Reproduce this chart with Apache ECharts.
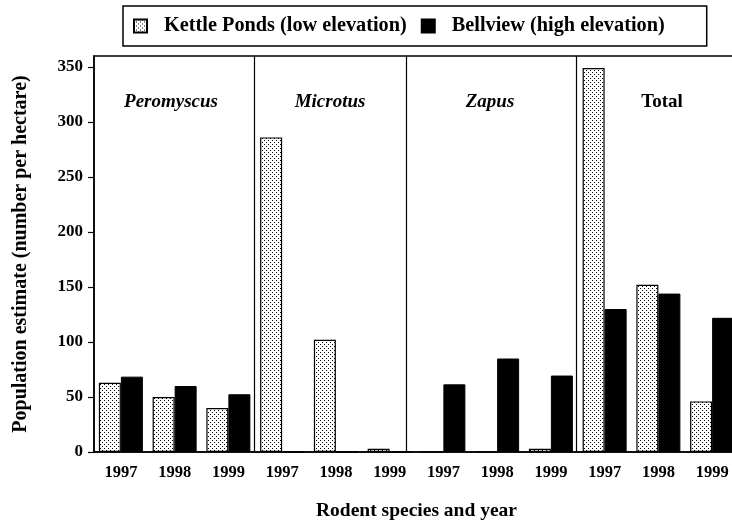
<!DOCTYPE html>
<html>
<head>
<meta charset="utf-8">
<script src="https://cdn.jsdelivr.net/npm/echarts@6/dist/echarts.min.js"></script>
<style>
  html, body { margin: 0; padding: 0; background: #fff; }
  #chart { width: 732px; height: 523px; }
</style>
</head>
<body>
<div id="chart"></div>
<script>
// data
var years = ['1997', '1998', '1999', '1997', '1998', '1999', '1997', '1998', '1999', '1997', '1998', '1999']
var groupNames = ['Peromyscus', 'Microtus', 'Zapus', 'Total']
var kettlePonds = [63, 50, 40, 286, 102, 3, 0, 0, 3, 349, 152, 46]
var bellview = [68.5, 60, 52.5, 0, 0, 0, 61.5, 85, 69.5, 130, 144, 122]
var yTicks = [0, 50, 100, 150, 200, 250, 300, 350]
// where the group dividers sit, in category units
var dividers = [2.98, 5.8, 8.98]

var FONT = '"Liberation Serif", "Times New Roman", serif'

// dotted fill for the low elevation bars
function makeDots () {
  var c = document.createElement('canvas')
  c.width = 4
  c.height = 4
  var ctx = c.getContext('2d')
  ctx.fillStyle = '#fff'
  ctx.fillRect(0, 0, 4, 4)
  ctx.fillStyle = '#000'
  ctx.fillRect(0, 0, 1, 1)
  ctx.fillRect(2, 2, 1, 1)
  return c
}
var dots = { image: makeDots(), repeat: 'repeat' }

var myChart = echarts.init(document.getElementById('chart'))

// group labels above each block
var labelX = [171, 330, 490, 662]
var groupText = groupNames.map(function (name, i) {
  return {
    type: 'text',
    x: labelX[i],
    y: 102,
    style: {
      text: name,
      fill: '#000',
      font: (i < 3 ? 'italic ' : '') + 'bold 19px ' + FONT,
      textAlign: 'center',
      textVerticalAlign: 'middle'
    }
  }
})

var option = {
  animation: false,
  backgroundColor: '#fff',
  textStyle: { fontFamily: FONT },
  legend: {
    left: 123,
    top: 6,
    padding: [10, 42, 10, 10],
    borderColor: '#000',
    borderWidth: 1.5,
    itemWidth: 13,
    itemHeight: 13,
    itemGap: 14,
    icon: 'rect',
    textStyle: { fontFamily: FONT, fontSize: 20.3, fontWeight: 'bold', color: '#000', padding: [0, 0, 0, 12] },
    data: ['Kettle Ponds (low elevation)', 'Bellview (high elevation)']
  },
  grid: {
    left: 94,
    top: 56,
    width: 645,
    bottom: 71,
    outerBoundsMode: 'none',
    show: true,
    borderColor: '#000',
    borderWidth: 1.5
  },
  xAxis: [{
    type: 'category',
    data: years,
    axisLine: { lineStyle: { color: '#000', width: 1.5 } },
    axisTick: { show: false },
    axisLabel: { color: '#000', fontFamily: FONT, fontWeight: 'bold', fontSize: 16.5, margin: 12 },
    name: 'Rodent species and year',
    nameLocation: 'middle',
    nameGap: 49,
    nameTextStyle: { color: '#000', fontFamily: FONT, fontWeight: 'bold', fontSize: 19.5 }
  }, {
    type: 'value',
    min: 0,
    max: 12,
    show: false
  }],
  yAxis: {
    type: 'value',
    min: 0,
    max: 360,
    interval: 50,
    splitLine: { show: false },
    axisLine: { show: true, lineStyle: { color: '#000', width: 1.5 } },
    axisTick: { show: true, length: 6, lineStyle: { color: '#000', width: 1.2 }, customValues: yTicks },
    axisLabel: { color: '#000', fontFamily: FONT, fontWeight: 'bold', fontSize: 17, margin: 11, customValues: yTicks },
    name: 'Population estimate (number per hectare)',
    nameLocation: 'middle',
    nameGap: 63,
    nameTextStyle: { color: '#000', fontFamily: FONT, fontWeight: 'bold', fontSize: 20 }
  },
  graphic: groupText,
  series: [{
    name: 'Kettle Ponds (low elevation)',
    type: 'bar',
    data: kettlePonds,
    barWidth: 22,
    barGap: '0%',
    itemStyle: { color: dots, borderColor: '#000', borderWidth: 1.2 }
  }, {
    name: 'Bellview (high elevation)',
    type: 'bar',
    data: bellview,
    barWidth: 22,
    barGap: '0%',
    itemStyle: { color: '#000', borderColor: '#000', borderWidth: 1 }
  }, {
    name: 'dividers',
    type: 'line',
    xAxisIndex: 1,
    data: [],
    silent: true,
    markLine: {
      silent: true,
      symbol: 'none',
      label: { show: false },
      lineStyle: { color: '#000', width: 1.2, type: 'solid' },
      data: dividers.map(function (v) { return { xAxis: v } })
    }
  }]
}
myChart.setOption(option)
</script>
</body>
</html>
